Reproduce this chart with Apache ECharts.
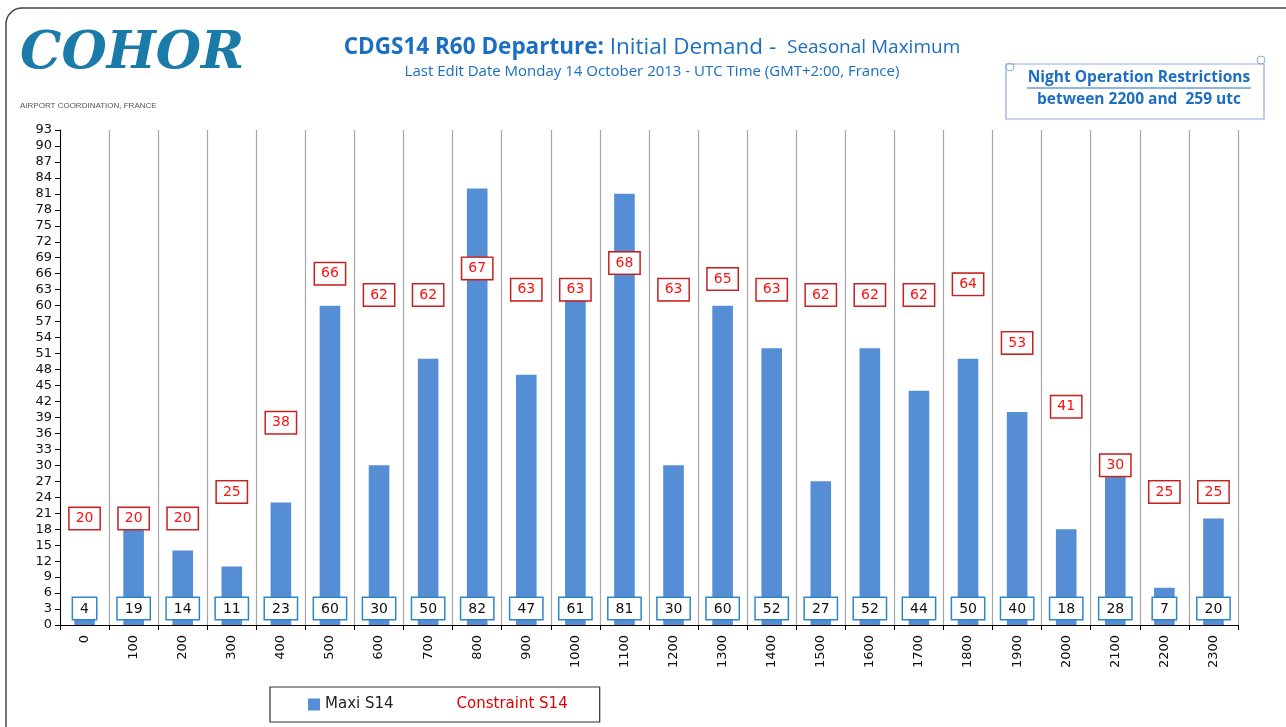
<!DOCTYPE html>
<html><head><meta charset="utf-8">
<script src="https://cdn.jsdelivr.net/npm/echarts@6/dist/echarts.min.js"></script>
<style>html,body{margin:0;padding:0;background:#fff}#c{width:1286px;height:727px}</style>
</head><body><div id="c"></div>
<script>
const categories = ['0','100','200','300','400','500','600','700','800','900','1000','1100','1200','1300','1400','1500','1600','1700','1800','1900','2000','2100','2200','2300'];
const maxiS14 = [4,19,14,11,23,60,30,50,82,47,61,81,30,60,52,27,52,44,50,40,18,28,7,20];
const constraintS14 = [20,20,20,25,38,66,62,62,67,63,63,68,63,65,63,62,62,62,64,53,41,30,25,25];
const yMin = 0, yMax = 93, yStep = 3;

const chart = echarts.init(document.getElementById('c'));
const blue = '#1b6ec2';
chart.setOption({
  animation: false,
  grid: {left: 60, right: 48, top: 130, bottom: 102},
  legend: {
    left: 270, top: 687, orient: 'horizontal',
    padding: [10, 32, 10, 38], itemGap: 46,
    borderColor: '#333', borderWidth: 1.2, borderRadius: 0,
    itemWidth: 12, itemHeight: 12,
    textStyle: {fontFamily: 'DejaVu Sans', fontSize: 15, color: '#222'},
    data: [
      {name: 'Maxi S14', icon: 'rect'},
      {name: 'Constraint S14', icon: 'none', textStyle: {color: '#e00000'}}
    ]
  },
  xAxis: {
    type: 'category', data: categories,
    axisLine: {lineStyle: {color: '#000', width: 1}},
    axisTick: {show: true, length: 5, lineStyle: {color: '#000'}},
    splitLine: {show: true, lineStyle: {color: '#a6a6a6', width: 1.2}},
    axisLabel: {rotate: 90, fontFamily: 'DejaVu Sans', fontSize: 13, color: '#111', margin: 10, interval: 0}
  },
  yAxis: {
    type: 'value', min: yMin, max: yMax, interval: yStep,
    axisLine: {show: true, lineStyle: {color: '#000', width: 1}},
    axisTick: {show: true, length: 5, lineStyle: {color: '#000'}},
    splitLine: {show: false},
    axisLabel: {fontFamily: 'DejaVu Sans', fontSize: 13, color: '#111', margin: 8}
  },
  series: [
    {
      name: 'Maxi S14', type: 'bar', data: maxiS14, barWidth: '42%',
      itemStyle: {color: '#558ed5'},
      label: {
        show: true, position: 'insideBottom', distance: 6,
        backgroundColor: '#fff', borderColor: '#2e86c8', borderWidth: 1.5,
        padding: [4, 7, 3, 7], color: '#111', fontFamily: 'DejaVu Sans', fontSize: 14
      }
    },
    {
      name: 'Constraint S14', type: 'scatter', data: constraintS14,
      symbolSize: 1, itemStyle: {opacity: 0, color: '#e00000'},
      label: {
        show: true, position: 'inside', opacity: 1,
        backgroundColor: '#fff', borderColor: '#c82020', borderWidth: 1.5,
        padding: [4, 6, 3, 6], color: '#ff1010', fontFamily: 'DejaVu Sans', fontSize: 14
      },
      z: 5
    }
  ],
  graphic: [
    {type: 'rect', shape: {x: 6, y: 8, width: 1320, height: 760, r: 16}, style: {fill: 'none', stroke: '#444', lineWidth: 1.5}, z: 10},
    {type: 'text', left: 20, top: 28, style: {text: 'COHOR', font: 'italic bold 52px "DejaVu Serif"', fill: '#1a7aa8'}},
    {type: 'text', left: 20, top: 102, style: {text: 'AIRPORT COORDINATION, FRANCE', font: '8px "Liberation Sans"', fill: '#555'}},
    {type: 'text', x: 652, y: 48, style: {
      text: '{a|CDGS14 R60 Departure:}{b| Initial Demand - }{c| Seasonal Maximum}',
      align: 'center', verticalAlign: 'middle',
      rich: {
        a: {font: 'bold 22.5px "Open Sans"', fill: blue, color: blue},
        b: {font: '22.5px "Open Sans"', fill: blue, color: blue},
        c: {font: '19px "Open Sans"', fill: blue, color: blue}
      }
    }},
    {type: 'text', x: 652, y: 72, style: {text: 'Last Edit Date Monday 14 October 2013 - UTC Time (GMT+2:00, France)', font: '15px "Open Sans"', fill: blue, align: 'center', verticalAlign: 'middle'}},
    {type: 'rect', shape: {x: 1006, y: 64, width: 258, height: 55}, style: {fill: '#fff', stroke: '#8eaadb', lineWidth: 1.2}},
    {type: 'circle', shape: {cx: 1010, cy: 67, r: 4}, style: {fill: 'none', stroke: '#8eaadb', lineWidth: 1}},
    {type: 'circle', shape: {cx: 1261, cy: 60, r: 4}, style: {fill: 'none', stroke: '#8eaadb', lineWidth: 1}},
    {type: 'text', x: 1139, y: 78, style: {text: 'Night Operation Restrictions', font: 'bold 15.5px "Open Sans"', fill: blue, align: 'center', verticalAlign: 'middle'}},
    {type: 'line', shape: {x1: 1027, y1: 88, x2: 1251, y2: 88}, style: {stroke: blue, lineWidth: 1}},
    {type: 'text', x: 1139, y: 100, style: {text: 'between 2200 and  259 utc', font: 'bold 15.5px "Open Sans"', fill: blue, align: 'center', verticalAlign: 'middle'}}
  ]
});
</script></body></html>
